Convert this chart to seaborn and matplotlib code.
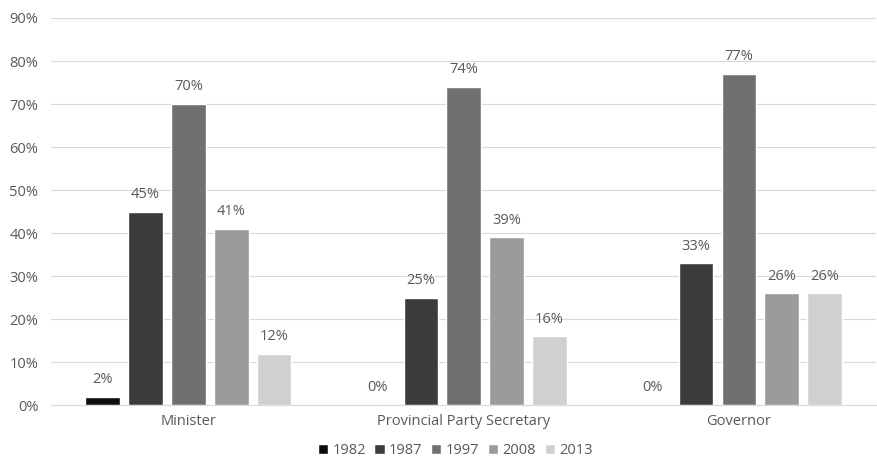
import pandas as pd
import seaborn as sns
import matplotlib.pyplot as plt
from matplotlib.ticker import PercentFormatter

positions = ["Minister", "Provincial Party Secretary", "Governor"]
years = ["1982", "1987", "1997", "2008", "2013"]
share_1982 = [2, 0, 0]
share_1987 = [45, 25, 33]
share_1997 = [70, 74, 77]
share_2008 = [41, 39, 26]
share_2013 = [12, 16, 26]

grey_shades = ["#0d0d0d", "#3b3b3b", "#707070", "#9b9b9b", "#d0d0d0"]
text_grey = "#595959"

rows = []
for year, vals in zip(years, [share_1982, share_1987, share_1997, share_2008, share_2013]):
    for pos, v in zip(positions, vals):
        rows.append({"position": pos, "year": year, "share": v})
df = pd.DataFrame(rows)

sns.set_style("white")
plt.rcParams["font.family"] = ["Open Sans", "DejaVu Sans"]

fig = plt.figure(figsize=(8.78, 4.61), dpi=100)
ax = fig.add_axes([0.058, 0.121, 0.94, 0.84])

sns.barplot(data=df, x="position", y="share", hue="year", order=positions,
            hue_order=years, palette=grey_shades, width=0.78, gap=0.2,
            saturation=1, ax=ax)

for container in ax.containers:
    ax.bar_label(container, fmt="%g%%", padding=7, fontsize=10.5, color=text_grey)

ax.set_ylim(0, 90)
ax.set_yticks(range(0, 91, 10))
ax.yaxis.set_major_formatter(PercentFormatter(decimals=0))
ax.grid(axis="y", color="#d9d9d9", linewidth=0.8)
ax.set_axisbelow(True)
ax.set_xlabel("")
ax.set_ylabel("")
ax.tick_params(axis="both", length=0, labelsize=10.5, labelcolor=text_grey)
ax.tick_params(axis="x", pad=6)
ax.tick_params(axis="y", pad=9)
for side in ["top", "right", "left"]:
    ax.spines[side].set_visible(False)
ax.spines["bottom"].set_color("#d9d9d9")

ax.legend(loc="center", bbox_to_anchor=(0.49, -0.118), ncol=5, frameon=False,
          fontsize=10.5, labelcolor=text_grey, handlelength=0.7, handleheight=0.7,
          handletextpad=0.3, columnspacing=0.6)

fig.savefig("out.png", dpi=100)
